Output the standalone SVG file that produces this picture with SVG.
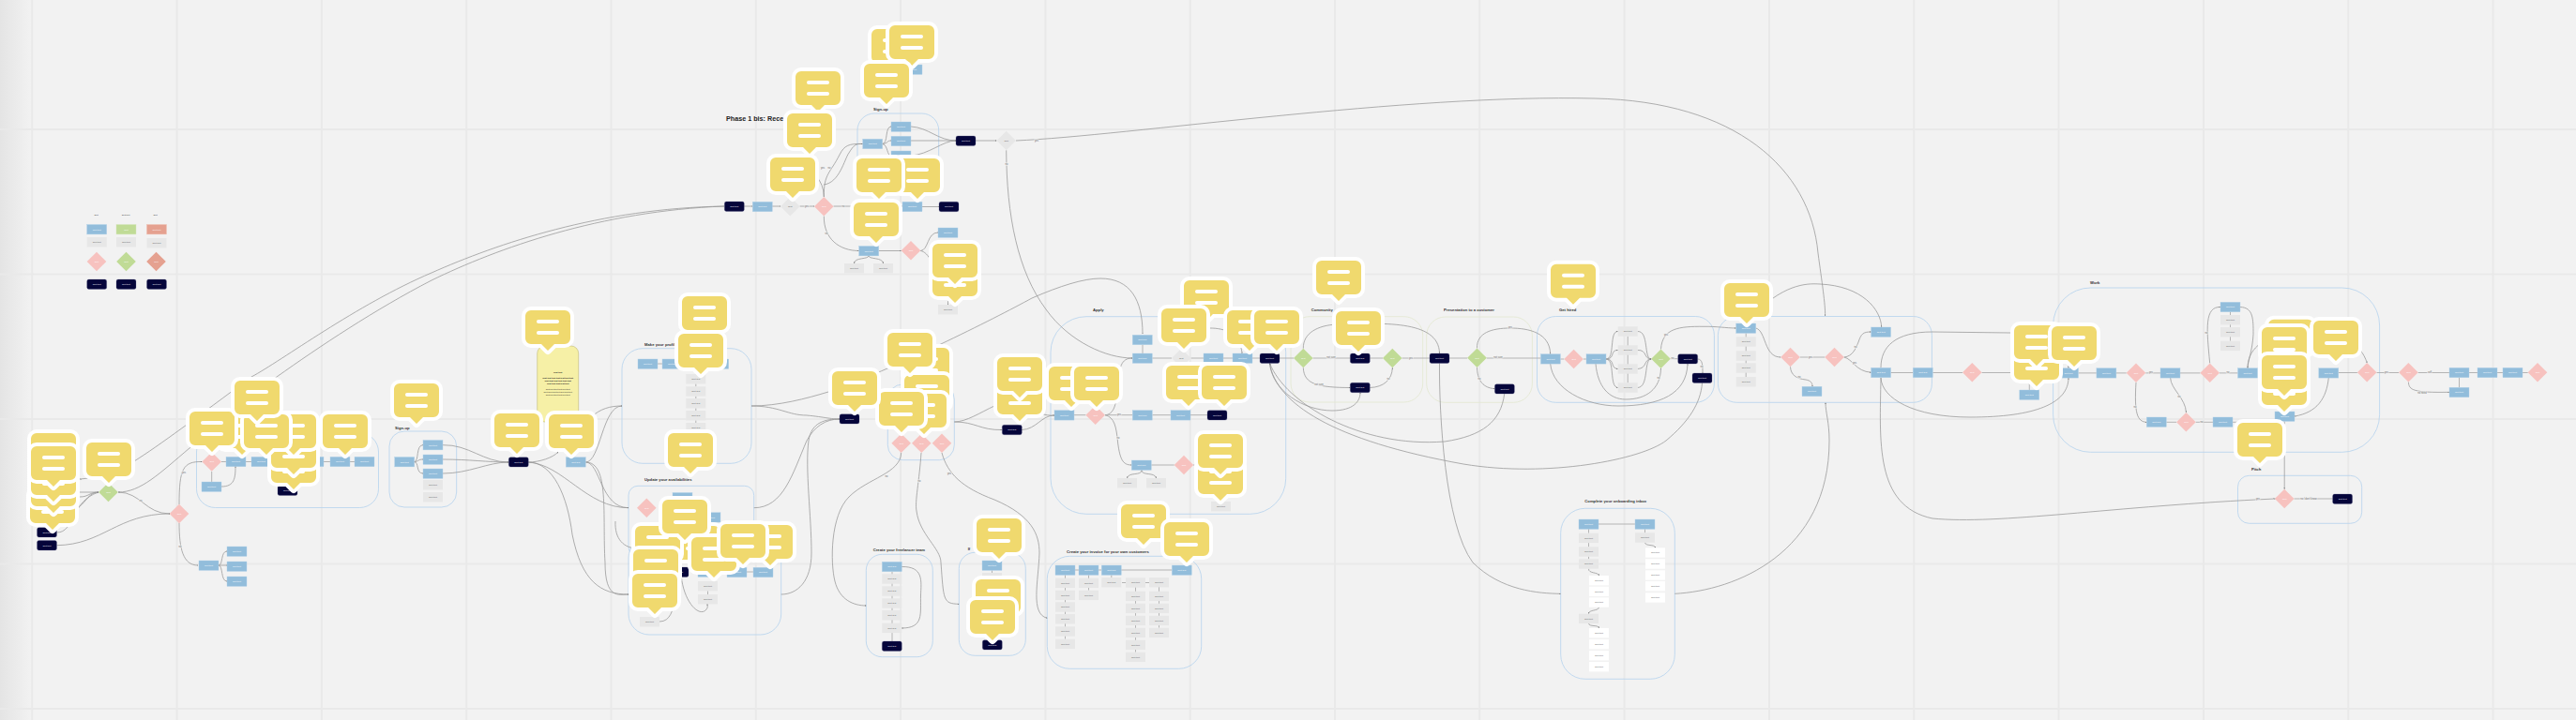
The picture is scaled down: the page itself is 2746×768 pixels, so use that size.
<svg xmlns="http://www.w3.org/2000/svg" width="2746" height="768" viewBox="0 0 2746 768">
<style>
text{font-family:"Liberation Sans",Arial,sans-serif}
.gr{stroke:#e9e9e9;stroke-width:2}
.box{fill:none;stroke:#b4d2ee;stroke-width:.8}
.gbox{fill:none;stroke:#e2e7cf;stroke-width:.8}
.c{fill:none;stroke:#969696;stroke-width:.75;marker-end:url(#a)}
.s{fill:none;stroke:#adadad;stroke-width:.9}
.l{font-size:4.2px;font-weight:700;fill:#333}
.e{font-size:2.6px;fill:#666;text-anchor:middle;paint-order:stroke;stroke:#f2f2f2;stroke-width:1.2px}
.tw{font-size:2.4px;fill:#fff;text-anchor:middle}
.td{font-size:2.4px;fill:#555;text-anchor:middle}
.tb{font-size:2.3px;fill:#222;text-anchor:middle}
</style>
<defs>
<linearGradient id="edge"><stop offset="0" stop-color="#e4e4e4"/><stop offset="1" stop-color="#f2f2f2"/></linearGradient>
<marker id="a" viewBox="0 0 4 4" refX="4" refY="2" markerWidth="1.5" markerHeight="1.5" markerUnits="userSpaceOnUse" orient="auto"><path d="M0 0L4 2L0 4z" fill="#777"/></marker>
<g id="B"><rect width="21" height="10.4" fill="#92bddb" stroke="#b3d2e8" stroke-width=".4"/><text x="10.5" y="6" class="tw">Text text</text></g>
<g id="O"><rect width="21" height="10.4" fill="#e5a190" stroke="#eec0b2" stroke-width=".4"/><text x="10.5" y="6" class="tw">Text text</text></g>
<g id="V"><rect width="21" height="10.4" fill="#c0db96" stroke="#d5e6bb" stroke-width=".4"/><text x="10.5" y="6" class="tw">Text</text></g>
<g id="G"><rect width="21" height="10.4" fill="#e7e7e7"/><text x="10.5" y="6" class="td">Text text</text></g>
<g id="W"><rect width="21" height="10.4" fill="#fff"/><text x="10.5" y="6" class="td">Text text</text></g>
<g id="N"><rect width="21" height="10.4" rx="2" fill="#05053a" stroke="#6b6b92" stroke-width=".3"/><text x="10.5" y="6" class="tw">Text text</text></g>
<g id="P"><path d="M0-10.3L10.3 0L0 10.3L-10.3 0z" fill="#f7c2bf"/><text y=".8" class="tw">Text</text></g>
<g id="L"><path d="M0-10.3L10.3 0L0 10.3L-10.3 0z" fill="#c0db96"/><text y=".8" class="tw">Text</text></g>
<g id="R"><path d="M0-10.3L10.3 0L0 10.3L-10.3 0z" fill="#e5a190"/><text y=".8" class="tw">Text</text></g>
<g id="D"><path d="M0-10.3L10.3 0L0 10.3L-10.3 0z" fill="#e7e7e7"/><text y=".8" class="td">Text</text></g>
<g id="C"><path d="M6 0H42a6 6 0 0 1 6 6V30a6 6 0 0 1-6 6H31L24 43L17 36H6a6 6 0 0 1-6-6V6a6 6 0 0 1 6-6z" fill="#f0d96e" stroke="#fff" stroke-width="8" stroke-linejoin="round" paint-order="stroke"/><rect x="12" y="10" width="24" height="4" rx="2" fill="#fff"/><rect x="12" y="22" width="24" height="4" rx="2" fill="#fff"/></g>
</defs>
<rect width="2746" height="768" fill="#f2f2f2"/>
<rect width="34" height="768" fill="url(#edge)"/>
<g id="grid" class="gr">
<path d="M34.3 0V768M188.6 0V768M342.9 0V768M497.2 0V768M651.5 0V768M805.8 0V768M960 0V768M1114.4 0V768M1268.7 0V768M1423 0V768M1577.3 0V768M1731.6 0V768M1886 0V768M2040.3 0V768M2194.6 0V768M2349 0V768M2503.3 0V768M2657.6 0V768M0 138H2746M0 292.6H2746M0 447H2746M0 601.6H2746M0 756H2746"/>
</g>
<g id="groups">
<rect class="box" x="209.5" y="462" width="194" height="79.5" rx="20"/>
<rect class="box" x="415" y="460" width="71.7" height="81" rx="16"/>
<rect class="box" x="663" y="371.7" width="138" height="122.6" rx="22"/>
<rect class="box" x="670" y="518.3" width="133.7" height="75" rx="10"/>
<rect class="box" x="670" y="573" width="162.7" height="104" rx="22"/>
<rect class="box" x="914" y="121" width="86.7" height="74" rx="18"/>
<rect class="box" x="946.3" y="410" width="71" height="80.7" rx="16"/>
<rect class="box" x="923.3" y="591.3" width="71" height="109.4" rx="17"/>
<rect class="box" x="1022.3" y="589.3" width="71" height="110" rx="17"/>
<rect class="box" x="1116.3" y="593.3" width="164.4" height="120" rx="24"/>
<rect class="box" x="1120" y="337.7" width="250.7" height="210.6" rx="38"/>
<rect class="gbox" x="1376" y="337.7" width="140.7" height="91.3" rx="20"/>
<rect class="gbox" x="1520.7" y="338" width="112.7" height="91.3" rx="20"/>
<rect class="box" x="1638.5" y="337.5" width="188.9" height="91.8" rx="20"/>
<rect class="box" x="1831.4" y="337.5" width="228" height="91.8" rx="20"/>
<rect class="box" x="1663.7" y="542.3" width="121.6" height="182" rx="26"/>
<rect class="box" x="2188.6" y="307" width="348" height="175.3" rx="40"/>
<rect class="box" x="2385.5" y="507.3" width="132.2" height="51" rx="12"/>
</g>
<g id="connectors">
<path class="c" d="M772 220C640 222 530 260 460 291C380 325 300 385 268 402C210 445 170 475 143 492C125 505 100 510 85 511"/>
<path class="c" d="M772 220C640 225 530 265 460 299C400 330 340 370 295 402C260 425 230 460 202 478C170 505 150 525 126 525"/>
<path class="c" d="M85 525H105"/><path class="c" d="M85 530C95 530 95 525 105 525"/><path class="c" d="M85 540C92 535 95 525 105 525"/>
<path class="c" d="M60.500 568C80 568 75 535 105 525"/>
<path class="c" d="M60.500 581.700C110 581 125 548 181 548"/>
<path class="c" d="M126 525C150 525 155 548 181 548"/>
<path class="c" d="M191 538C191 500 195 492 215.500 492.500"/>
<path class="c" d="M191 558C191 585 195 603 211 603"/>
<path class="c" d="M233 603C238 603 235 588 242 588"/><path class="c" d="M233 603C238 603 235 620 242 620"/><path class="c" d="M233 603H242"/>
<path class="c" d="M236 519C250 519 251 510 251 497"/>
<path class="c" d="M441.700 492.700C447 492 443 474.700 451 474.700"/><path class="c" d="M441.700 492.700C447 492 445 490 451 490"/><path class="c" d="M441.700 492.700C447 493 443 505 451 505"/>
<path class="c" d="M472 474.700C500 474 515 493 542 493"/><path class="c" d="M472 490C500 490 520 493 542 493"/><path class="c" d="M472 505C500 505 520 493 542 493"/>
<path class="c" d="M563 493C575 493 590 488 595 482"/>
<path class="c" d="M624.300 493C640 493 642 433 663 433"/>
<path class="c" d="M630 445C640 436 650 433 663 433"/>
<path class="c" d="M624.300 493C640 493 640 541.700 670 541.700"/>
<path class="c" d="M563 493C600 495 625 541.700 670 541.700"/>
<path class="c" d="M624.300 493C650 493 642 550 645 600C645 640 660 634 670 634"/>
<path class="c" d="M563 493C590 493 605 530 610 570C620 620 640 634 670 634"/>
<path class="c" d="M801 433C830 433 860 425 883 418C950 395 1060 340 1100 318C1130 305 1155 297 1173 297C1205 297 1218 320 1218 356"/>
<path class="c" d="M801 433C830 433 840 443 860 443C880 445 885 447 895 447"/>
<path class="c" d="M803.700 541.700C835 541.700 845 505 860 470C868 455 880 447 895 447"/>
<path class="c" d="M832.700 634C850 634 865 620 865 590C865 550 858 500 862 470C865 450 880 447 895 447"/>
<path class="c" d="M656 556C655 575 665 585 680 585"/>
<path class="c" d="M703 663C715 663 717 650 720 640"/>
<path class="c" d="M726 610C727 640 745 660 753 650C755 648 754 645 754 644"/>
<path class="c" d="M1017.300 450C1040 450 1045 459 1068 458.500"/>
<path class="c" d="M1017.300 450C1030 450 1045 440 1060 433C1080 425 1105 445 1124 443"/>
<path class="c" d="M1089 458.500C1105 458 1110 443 1124 443"/>
<path class="c" d="M960.700 483C960 505 925 510 905 530C885 550 885 600 890 620C895 640 910 646 923.300 646"/>
<path class="c" d="M982 483C980 513 975 535 977 545C980 570 1003 585 1003 600C1006 640 1005 644 1022.300 644.300"/>
<path class="c" d="M1004 483C1010 505 1025 520 1060 533C1100 550 1108 570 1108 590C1107 620 1098 655 1116.300 659.300"/>
<path class="c" d="M961 604.500C985 604 982 620 981.500 635C981 655 985 670 961 670"/>
<path class="c" d="M793 220H802"/>
<path class="c" d="M823 220H832"/>
<path class="c" d="M852.600 220H868"/>
<path class="c" d="M888.600 220H962"/>
<path class="c" d="M878.300 210C878 190 865 185 857 172"/>
<path class="c" d="M878.300 210C878 185 885 185 895 165C900 155 905 153 919.700 153.500"/>
<path class="c" d="M878 197C895 195 900 170 905 163C910 155 912 153 919.700 153.500"/>
<path class="c" d="M940.700 153.500C947 153 943 135 950 135"/><path class="c" d="M940.700 153.500C947 153 945 150 950 150"/><path class="c" d="M940.700 153.500C947 155 945 166 950 166"/>
<path class="c" d="M971 135C990 136 1000 150 1019 150"/><path class="c" d="M971 150H1019"/><path class="c" d="M971 166C990 165 1005 150 1019 150"/>
<path class="c" d="M1040 150H1062.400"/>
<path class="c" d="M983 220.500H1001"/>
<path class="c" d="M878.300 230.600C878 255 895 267.500 915.700 267.500"/>
<path class="c" d="M936.700 267.500H960.700"/>
<path class="c" d="M926 272.700C926 277 941 274 941.500 281"/><path class="c" d="M926 272.700C926 277 911 274 910.500 281"/>
<path class="c" d="M981.300 267.500C990 267 988 248 1000 248"/>
<path class="c" d="M981.300 267.500C985 268 990 272 993 280"/>
<path class="c" d="M1010.500 318V325"/>
<path class="c" d="M1083 150C1200 145 1500 100 1700 105C1850 108 1930 180 1938 270C1942 300 1946 325 1945.600 337"/>
<path class="c" d="M1072.700 160.300C1073 230 1085 290 1115 330C1140 365 1180 382 1207 382"/>
<path class="c" d="M1178 442.700C1190 442 1190 425 1192 410C1193 392 1195 382 1207 382"/>
<path class="c" d="M1178 442.700C1188 445 1190 455 1191.700 473C1194 490 1197 496 1206 496"/>
<path class="c" d="M1217 501.400C1217 508 1203 503 1201.500 510"/><path class="c" d="M1217 501.400C1217 508 1231 503 1232.500 510"/>
<path class="c" d="M1290 350C1305 350 1322 355 1324 377"/>
<path class="c" d="M1353.500 387.400C1356 417 1390 438 1420 438C1443 438 1450 428 1450 418.700"/>
<path class="c" d="M1603.700 420C1600 450 1580 465 1540 471C1450 478 1370 430 1353.500 387.400"/>
<path class="c" d="M1814.500 408.400C1813 430 1800 450 1776 470C1750 490 1650 510 1560 495C1420 470 1360 430 1353.500 387.400"/>
<path class="c" d="M1389.300 371.700C1389 355 1405 347 1425 346C1470 345 1534 340 1534.500 377"/>
<path class="c" d="M1389.300 392.300C1390 410 1405 413.300 1439.300 413.500"/>
<path class="c" d="M1460.300 413.500C1475 413 1484 405 1484.300 392.300"/>
<path class="c" d="M1574.500 371.400C1574 355 1590 350 1610 350C1630 350 1652 355 1652.700 377.700"/>
<path class="c" d="M1652.700 388C1655 415 1690 433 1725 433C1770 433 1798 420 1799 388"/>
<path class="c" d="M1574.500 392C1575 410 1585 414 1593.400 414.700"/>
<path class="c" d="M1534.500 387.400C1534 440 1540 560 1570 600C1600 630 1640 633 1663.700 633.300"/>
<path class="c" d="M1785.300 633.300C1850 630 1950 590 1950 470C1950 450 1946 440 1946 429.500"/>
<path class="c" d="M1712 383C1722 383 1715 353 1724.700 353.500"/><path class="c" d="M1712 383C1722 383 1716 373 1724.700 373.500"/><path class="c" d="M1712 383C1722 383 1716 393 1724.700 393.500"/><path class="c" d="M1712 383C1722 383 1715 413 1724.700 413.500"/>
<path class="c" d="M1745.700 353.500C1758 353 1752 383 1760.200 383"/><path class="c" d="M1745.700 373.500C1756 373 1752 383 1760.200 383"/><path class="c" d="M1745.700 393.500C1756 393 1752 383 1760.200 383"/><path class="c" d="M1745.700 413.500C1758 413 1752 383 1760.200 383"/>
<path class="c" d="M1701 388C1703 412 1715 426 1733 426C1755 426 1770 415 1770.500 393"/>
<path class="c" d="M1770.500 372.400C1772 350 1790 348 1816 348.300C1830 348 1840 350 1850.700 350"/>
<path class="c" d="M1809.700 383C1815 383 1815 390 1815 398"/>
<path class="c" d="M1871.700 350C1883 353 1880 381 1898.200 381"/>
<path class="c" d="M1908.500 391.300C1909 400 1915 404 1925 405C1930 406 1932 408 1932 412.300"/>
<path class="c" d="M1965.800 381C1975 380 1978 372 1981 365C1984 356 1986 354 1994.600 354"/>
<path class="c" d="M1965.800 381C1975 383 1978 396 1994.600 397.300"/>
<path class="c" d="M1865 340C1900 303 1925 302 1940 303C1985 305 2005 330 2005.700 349"/>
<path class="c" d="M2005 392C2005 370 2020 354 2060 354L2143 355C2170 355 2205 365 2205 392.700"/>
<path class="c" d="M2005 403C2006 425 2040 445 2100 445C2170 445 2205 430 2205 403"/>
<path class="c" d="M2005 403C2004 470 1998 540 2060 553C2130 560 2250 540 2425 532"/>
<path class="c" d="M2277 408C2275 440 2278 450 2288.300 450.300"/>
<path class="c" d="M2313.600 403C2314 415 2330 425 2330.400 440"/>
<path class="c" d="M2355.700 387.400C2352 350 2350 327 2367 327.500"/>
<path class="c" d="M2388 327.500C2402 328 2402 340 2402 356.700C2401 375 2396 385 2396 392.700"/>
<path class="c" d="M2396 392.700C2396 380 2402 372 2410 366C2440 345 2510 345 2523.200 387"/>
<path class="c" d="M2482.300 403C2480 425 2470 440 2446 444"/>
<path class="c" d="M2435.200 449.400V521.700"/>
<path class="c" d="M2567.400 407.600C2568 416 2572 419 2611 418.300"/>
<path class="s" d="M236 492.500H241M262 492.500H268M289 492.500H296M345 492.500H352M373 492.500H378M225.700 503V514M317 522L326 515M701 388H706M727 388H755M741.800 409.400V412.300M741.800 422.700V425M741.800 435.400V438M741.800 448.400V451M724 530V535M765 610H775M796 610H803M754.500 630.400V634M951 609.700V684M1057.500 608.400V611M1146 608H1150M1171 608H1174M1195 608H1249M1135.500 613.400V681.700M1160.500 613.400V629.700M1184.800 613.400V616M1221 621.500H1225M1196 621.500H1200M1210.500 626V695.700M1235.500 626V669.700M1145 442.700H1157.400M1178 442.700H1207.300M1228.300 442.700H1248M1269 442.700H1287M1227.300 496H1251.700M1272 496H1277M1301.500 530V535M1218 367.700V377M1228.300 382H1249M1269.600 382H1283M1304 382H1314M1335 382H1343M1364 382H1379M1399.600 382H1439.300M1460.300 382H1474M1494.600 382H1524M1545 382H1564.200M1584.800 382H1642.400M1663.400 383H1667.300M1688 383H1691M1735.200 358.700V408.300M1781 382.700H1788.700M1861.200 355.400V402M1918.800 381H1945.200M2015.600 397.500H2039.300M2060.300 397.500H2092M2112.600 397.500H2152.800M2163.300 403V416M2215.500 397.900H2234.900M2255.900 397.900H2266.700M2287.300 397.900H2303M2324 397.900H2345.400M2366 397.900H2385.500M2377.500 332.700V363.700M2309.300 450.300H2320M2340.700 450.300H2359M2380 450.300H2425M2493 397.500H2512.900M2533.500 397.500H2557M2577.700 397.500H2611M2632 397.500H2641M2662 397.500H2668M2689 397.500H2694.700M2621.500 402.700V413.300M2445.500 532H2486.600M2425 532H2435M1704 559H1743M1693.500 564.200V568.700M1693.500 579.100V583.300M1693.500 593.700V596.300M1753.500 564.200V568.300"/>
<path class="c" d="M1693.500 606.700C1693 612 1704 610 1704.500 614"/><path class="c" d="M1704.500 647.700C1704 652 1693.500 650 1693.500 654.700"/><path class="c" d="M1693.500 665C1694 669 1704 666 1704.500 670"/><path class="c" d="M1753.500 578.700C1754 583 1764 580 1764.500 584.300"/>
</g>
<g id="edge-labels">
<text class="e" x="150" y="535">no</text><text class="e" x="196" y="505">yes</text><text class="e" x="192" y="584">no</text>
<text class="e" x="860" y="221">yes</text><text class="e" x="899" y="221">no</text><text class="e" x="877" y="180">yes</text><text class="e" x="884" y="180">no</text><text class="e" x="881" y="250">no</text><text class="e" x="1105" y="151">yes</text><text class="e" x="1073" y="176">no</text>
<text class="e" x="945" y="509">no</text><text class="e" x="980" y="514">no</text><text class="e" x="1012" y="506">yes</text>
<text class="e" x="1193" y="443">yes</text><text class="e" x="1192" y="468">no</text><text class="e" x="1419" y="382">not sure</text><text class="e" x="1406" y="411">not sure</text><text class="e" x="1480" y="405">no</text><text class="e" x="1504" y="383">yes</text><text class="e" x="1610" y="350">yes</text><text class="e" x="1597" y="382">not sure</text><text class="e" x="1577" y="405">no</text>
<text class="e" x="1776" y="358">yes</text><text class="e" x="1768" y="404">no</text><text class="e" x="1783" y="383">no</text><text class="e" x="1814" y="392">no</text><text class="e" x="1930" y="382">yes</text><text class="e" x="1918" y="403">no</text><text class="e" x="1978" y="371">no</text><text class="e" x="1977" y="388">yes</text>
<text class="e" x="2293" y="398">yes</text><text class="e" x="2375" y="398">no</text><text class="e" x="2276" y="435">no</text><text class="e" x="2323" y="424">no</text><text class="e" x="2352" y="356">no</text><text class="e" x="2347" y="451">no</text><text class="e" x="2544" y="398">yes</text><text class="e" x="2590" y="398">self</text><text class="e" x="2582" y="420">no need</text><text class="e" x="2407" y="533">yes</text><text class="e" x="2461" y="533">no / don't know</text>
</g>
<g id="legend">
<text class="tb" x="102.500" y="229.500">Text</text><text class="tb" x="134" y="229.500">Text text</text><text class="tb" x="165.500" y="229.500">Text</text>
<g id="lg1"><use href="#B" x="92.700" y="239.500"/></g><g id="lg2"><use href="#V" x="124" y="239.500"/></g><g id="lg3"><use href="#O" x="156.500" y="239.500"/></g>
<g id="lg4"><use href="#G" x="92.700" y="253"/></g><g id="lg5"><use href="#G" x="124" y="253"/></g><g id="lg6"><use href="#G" x="156.500" y="254"/></g>
<g id="lg7"><use href="#P" x="103" y="279"/></g><g id="lg8"><use href="#L" x="134.500" y="279"/></g><g id="lg9"><use href="#R" x="166.500" y="279"/></g>
<g id="lg10"><use href="#N" x="92.700" y="298"/></g><g id="lg11"><use href="#N" x="124" y="298"/></g><g id="lg12"><use href="#N" x="156.500" y="298"/></g>
</g>
<g id="nodes">
<g id="n1"><use href="#N" x="39.500" y="562.700"/></g><g id="n2"><use href="#N" x="39.500" y="576.500"/></g>
<g id="n3"><use href="#L" x="115.500" y="525"/></g><g id="n4"><use href="#P" x="191" y="548"/></g><g id="n5"><use href="#P" x="225.700" y="492.500"/></g>
<g id="n6"><use href="#B" x="241" y="487.300"/></g><g id="n7"><use href="#B" x="268" y="487.300"/></g><g id="n8"><use href="#B" x="324" y="487.300"/></g><g id="n9"><use href="#B" x="352" y="487.300"/></g><g id="n10"><use href="#B" x="378" y="487.300"/></g><g id="n11"><use href="#B" x="215" y="514"/></g><g id="n12"><use href="#N" x="296" y="518"/></g>
<g id="n13"><use href="#B" x="212" y="598"/></g><g id="n14"><use href="#B" x="242" y="583"/></g><g id="n15"><use href="#B" x="242" y="599"/></g><g id="n16"><use href="#B" x="242" y="615"/></g>
<g id="n17"><use href="#B" x="420.700" y="487.500"/></g><g id="n18"><use href="#B" x="451" y="469.500"/></g><g id="n19"><use href="#B" x="451" y="485"/></g><g id="n20"><use href="#B" x="451" y="500"/></g><g id="n21"><use href="#G" x="451" y="512"/></g><g id="n22"><use href="#G" x="451" y="525"/></g>
<g id="n23"><use href="#N" x="542.300" y="487.700"/></g><g id="n24"><use href="#B" x="603.300" y="487.700"/></g>
<g id="note"><rect x="572.700" y="369" width="44" height="81" rx="8" fill="#f6f0a6" stroke="#b5ae6a" stroke-width=".5"/><text class="tb" x="594.700" y="398" font-weight="700">Text text</text><text class="tb" x="594.700" y="404" font-weight="700">Text text text text text text text</text><text class="tb" x="594.700" y="407" font-weight="700">Text text text text text text</text><text class="tb" x="594.700" y="410" font-weight="700">Text text text text text</text><text class="tb" x="594.700" y="416">Text text text text text text</text><text class="tb" x="594.700" y="419">Text text text text text text text</text><text class="tb" x="594.700" y="422">Text text text text text text</text></g>
<g id="n25"><use href="#B" x="680" y="383"/></g><g id="n26"><use href="#B" x="706" y="383"/></g><g id="n27"><use href="#B" x="755.700" y="383"/></g>
<g id="n28"><use href="#G" x="731.300" y="399"/></g><g id="n29"><use href="#G" x="731.300" y="412.300"/></g><g id="n30"><use href="#G" x="731.300" y="425"/></g><g id="n31"><use href="#G" x="731.300" y="438"/></g><g id="n32"><use href="#G" x="731.300" y="451"/></g>
<g id="n33"><use href="#P" x="689.300" y="541.700"/></g><g id="n34"><use href="#B" x="717" y="525.500"/></g><g id="n35"><use href="#B" x="747" y="546.700"/></g>
<g id="n36"><use href="#N" x="713" y="605"/></g><g id="n37"><use href="#B" x="744" y="605"/></g><g id="n38"><use href="#B" x="775" y="605.300"/></g><g id="n39"><use href="#B" x="803" y="605.300"/></g><g id="n40"><use href="#G" x="744" y="620"/></g><g id="n41"><use href="#G" x="744" y="634"/></g><g id="n42"><use href="#G" x="682" y="658"/></g>
<g id="n43"><use href="#N" x="772.300" y="215"/></g><g id="n44"><use href="#B" x="802.300" y="215.300"/></g><g id="n45"><use href="#D" x="842.300" y="220.300"/></g><g id="n46"><use href="#P" x="878.300" y="220.300"/></g><g id="n47"><use href="#B" x="962" y="215.300"/></g><g id="n48"><use href="#N" x="1001" y="215.300"/></g>
<g id="n49"><use href="#B" x="919.700" y="148.300"/></g><g id="n50"><use href="#B" x="950" y="130"/></g><g id="n51"><use href="#B" x="950" y="145.300"/></g><g id="n52"><use href="#B" x="950" y="161"/></g><g id="n53"><use href="#N" x="1019" y="145"/></g><g id="n54"><use href="#D" x="1072.700" y="150"/></g><g id="n55"><use href="#B" x="962" y="69"/></g>
<g id="n56"><use href="#B" x="915.700" y="262.500"/></g><g id="n57"><use href="#G" x="900" y="281"/></g><g id="n58"><use href="#G" x="931" y="281"/></g><g id="n59"><use href="#P" x="971" y="267.300"/></g><g id="n60"><use href="#B" x="1000" y="243"/></g><g id="n61"><use href="#G" x="1000" y="325"/></g>
<g id="n62"><use href="#N" x="895" y="441.700"/></g><g id="n63"><use href="#P" x="960.700" y="472.700"/></g><g id="n64"><use href="#P" x="982.300" y="472.700"/></g><g id="n65"><use href="#P" x="1004" y="472.700"/></g><g id="n66"><use href="#N" x="1068.300" y="453.300"/></g>
<g id="n67"><use href="#B" x="940.300" y="599.300"/></g><g id="n68"><use href="#G" x="940.300" y="612.300"/></g><g id="n69"><use href="#G" x="940.300" y="625.300"/></g><g id="n70"><use href="#G" x="940.300" y="638.300"/></g><g id="n71"><use href="#G" x="940.300" y="651"/></g><g id="n72"><use href="#G" x="940.300" y="664.700"/></g><g id="n73"><use href="#N" x="940.300" y="684"/></g>
<g id="n74"><use href="#B" x="1047" y="598"/></g><g id="n75"><use href="#G" x="1047" y="611"/></g><g id="n76"><use href="#N" x="1047.300" y="682.700"/></g>
<g id="n77"><use href="#B" x="1125" y="603"/></g><g id="n78"><use href="#B" x="1150" y="603"/></g><g id="n79"><use href="#B" x="1174.300" y="603"/></g><g id="n80"><use href="#B" x="1249.300" y="603"/></g>
<g id="n81"><use href="#G" x="1125" y="616.700"/></g><g id="n82"><use href="#G" x="1125" y="629.700"/></g><g id="n83"><use href="#G" x="1125" y="642.300"/></g><g id="n84"><use href="#G" x="1125" y="655"/></g><g id="n85"><use href="#G" x="1125" y="668.300"/></g><g id="n86"><use href="#G" x="1125" y="681.700"/></g>
<g id="n87"><use href="#G" x="1150" y="616.700"/></g><g id="n88"><use href="#G" x="1150" y="629.700"/></g><g id="n89"><use href="#G" x="1174.300" y="616"/></g>
<g id="n90"><use href="#G" x="1200" y="616.300"/></g><g id="n91"><use href="#G" x="1200" y="630.700"/></g><g id="n92"><use href="#G" x="1200" y="643.700"/></g><g id="n93"><use href="#G" x="1200" y="656.700"/></g><g id="n94"><use href="#G" x="1200" y="669.700"/></g><g id="n95"><use href="#G" x="1200" y="682.700"/></g><g id="n96"><use href="#G" x="1200" y="695.700"/></g>
<g id="n97"><use href="#G" x="1225" y="616"/></g><g id="n98"><use href="#G" x="1225" y="630.700"/></g><g id="n99"><use href="#G" x="1225" y="643.700"/></g><g id="n100"><use href="#G" x="1225" y="656.700"/></g><g id="n101"><use href="#G" x="1225" y="669.700"/></g>
<g id="n102"><use href="#B" x="1124" y="437.700"/></g><g id="n103"><use href="#P" x="1167.700" y="442.700"/></g><g id="n104"><use href="#B" x="1207.300" y="377"/></g><g id="n105"><use href="#B" x="1207.300" y="357.300"/></g><g id="n106"><use href="#D" x="1259.300" y="382"/></g><g id="n107"><use href="#B" x="1283" y="377"/></g><g id="n108"><use href="#B" x="1314" y="377"/></g><g id="n109"><use href="#N" x="1343" y="377"/></g>
<g id="n110"><use href="#B" x="1207.300" y="437.700"/></g><g id="n111"><use href="#B" x="1248" y="437.700"/></g><g id="n112"><use href="#N" x="1287" y="437.700"/></g><g id="n113"><use href="#B" x="1206.300" y="491"/></g><g id="n114"><use href="#P" x="1262" y="496"/></g><g id="n115"><use href="#G" x="1191" y="510"/></g><g id="n116"><use href="#G" x="1222" y="510"/></g><g id="n117"><use href="#G" x="1291" y="535"/></g>
<g id="n118"><use href="#L" x="1389.300" y="382"/></g><g id="n119"><use href="#N" x="1439.300" y="377"/></g><g id="n120"><use href="#L" x="1484.300" y="382"/></g><g id="n121"><use href="#N" x="1439.300" y="408.300"/></g><g id="n122"><use href="#N" x="1524" y="377"/></g>
<g id="n123"><use href="#L" x="1574.500" y="381.700"/></g><g id="n124"><use href="#N" x="1593.400" y="409.700"/></g><g id="n125"><use href="#B" x="1642.400" y="377.700"/></g><g id="n126"><use href="#P" x="1677.600" y="383"/></g><g id="n127"><use href="#B" x="1691" y="377.700"/></g>
<g id="n128"><use href="#G" x="1724.700" y="348.300"/></g><g id="n129"><use href="#G" x="1724.700" y="368.300"/></g><g id="n130"><use href="#G" x="1724.700" y="388.300"/></g><g id="n131"><use href="#G" x="1724.700" y="408.300"/></g>
<g id="n132"><use href="#L" x="1770.500" y="382.700"/></g><g id="n133"><use href="#N" x="1788.700" y="377.700"/></g><g id="n134"><use href="#N" x="1804" y="398"/></g>
<g id="n135"><use href="#B" x="1850.700" y="345"/></g><g id="n136"><use href="#G" x="1850.700" y="359.300"/></g><g id="n137"><use href="#G" x="1850.700" y="374.300"/></g><g id="n138"><use href="#G" x="1850.700" y="387.300"/></g><g id="n139"><use href="#G" x="1850.700" y="402"/></g>
<g id="n140"><use href="#P" x="1908.500" y="381"/></g><g id="n141"><use href="#P" x="1955.500" y="381"/></g><g id="n142"><use href="#B" x="1994.600" y="349"/></g><g id="n143"><use href="#B" x="1994.600" y="392.300"/></g><g id="n144"><use href="#B" x="2039.300" y="392.300"/></g><g id="n145"><use href="#B" x="1921" y="412.300"/></g>
<g id="n146"><use href="#P" x="2102.300" y="397.300"/></g><g id="n147"><use href="#B" x="2152.800" y="416"/></g><g id="n148"><use href="#B" x="2194.500" y="392.700"/></g><g id="n149"><use href="#B" x="2234.900" y="392.700"/></g><g id="n150"><use href="#P" x="2277" y="397.700"/></g><g id="n151"><use href="#B" x="2303" y="392.700"/></g><g id="n152"><use href="#P" x="2355.700" y="397.700"/></g><g id="n153"><use href="#B" x="2385.500" y="392.700"/></g><g id="n154"><use href="#B" x="2471.800" y="392.700"/></g><g id="n155"><use href="#P" x="2523.200" y="397.300"/></g><g id="n156"><use href="#P" x="2567.400" y="397.300"/></g><g id="n157"><use href="#B" x="2611" y="392.300"/></g><g id="n158"><use href="#B" x="2641" y="392.300"/></g><g id="n159"><use href="#B" x="2668" y="392.300"/></g><g id="n160"><use href="#P" x="2705" y="397.300"/></g><g id="n161"><use href="#B" x="2611" y="413.300"/></g>
<g id="n162"><use href="#B" x="2367" y="322.300"/></g><g id="n163"><use href="#G" x="2367" y="336"/></g><g id="n164"><use href="#G" x="2367" y="349"/></g><g id="n165"><use href="#G" x="2367" y="363.700"/></g>
<g id="n166"><use href="#B" x="2288.300" y="445"/></g><g id="n167"><use href="#P" x="2330.400" y="450.300"/></g><g id="n168"><use href="#B" x="2359" y="445"/></g><g id="n169"><use href="#B" x="2425" y="439"/></g><g id="n170"><use href="#P" x="2435.200" y="532"/></g><g id="n171"><use href="#N" x="2486.600" y="527"/></g>
<g id="n172"><use href="#B" x="1683" y="554"/></g><g id="n173"><use href="#B" x="1743" y="554"/></g><g id="n174"><use href="#G" x="1683" y="568.700"/></g><g id="n175"><use href="#G" x="1683" y="583.300"/></g><g id="n176"><use href="#G" x="1683" y="596.300"/></g><g id="n177"><use href="#G" x="1683" y="654.700"/></g>
<g id="n178"><use href="#W" x="1694" y="614"/></g><g id="n179"><use href="#W" x="1694" y="625.700"/></g><g id="n180"><use href="#W" x="1694" y="637.300"/></g><g id="n181"><use href="#W" x="1694" y="670"/></g><g id="n182"><use href="#W" x="1694" y="682"/></g><g id="n183"><use href="#W" x="1694" y="694"/></g><g id="n184"><use href="#W" x="1694" y="706"/></g>
<g id="n185"><use href="#G" x="1743" y="568.300"/></g><g id="n186"><use href="#W" x="1754" y="584.300"/></g><g id="n187"><use href="#W" x="1754" y="596.300"/></g><g id="n188"><use href="#W" x="1754" y="608.300"/></g><g id="n189"><use href="#W" x="1754" y="620"/></g><g id="n190"><use href="#W" x="1754" y="632.300"/></g>
</g>
<g id="titles">
<text x="774" y="128.500" font-size="7.200" font-weight="700" fill="#222">Phase 1 bis: Rece</text>
<text class="l" x="421" y="458">Sign-up</text><text class="l" x="931" y="117.500">Sign-up</text>
<text class="l" x="687" y="368.500">Make your profile</text><text class="l" x="687" y="513">Update your availabilities</text>
<text class="l" x="930.700" y="587.500">Create your freelancer team</text><text class="l" x="1031.700" y="587">If</text><text class="l" x="1137" y="589.500">Create your invoice for your own customers</text>
<text class="l" x="1165" y="332">Apply</text><text class="l" x="1397.700" y="332">Community</text><text class="l" x="1539" y="332">Presentation to a customer</text><text class="l" x="1662" y="332">Get hired</text><text class="l" x="2228" y="302.500">Work</text><text class="l" x="2400" y="501.500">Pitch</text><text class="l" x="1689.300" y="535.500">Complete your onboarding inbox</text>
</g>
<g id="comments">
<use id="c1" href="#C" x="32" y="522"/><use id="c2" href="#C" x="33" y="504"/><use id="c3" href="#C" x="33" y="492"/><use id="c4" href="#C" x="33" y="462"/><use id="c5" href="#C" x="33" y="476"/>
<use id="c6" href="#C" x="92" y="472"/>
<use id="c7" href="#C" x="234" y="442"/><use id="c8" href="#C" x="202" y="439"/><use id="c9" href="#C" x="289" y="479"/><use id="c10" href="#C" x="289" y="463"/><use id="c11" href="#C" x="289" y="442"/><use id="c12" href="#C" x="260" y="442"/><use id="c13" href="#C" x="250" y="406"/><use id="c14" href="#C" x="344" y="442"/><use id="c15" href="#C" x="420" y="409"/>
<use id="c16" href="#C" x="560" y="331"/><use id="c17" href="#C" x="527" y="441"/><use id="c18" href="#C" x="585" y="442"/>
<use id="c19" href="#C" x="727" y="316"/><use id="c20" href="#C" x="723" y="356"/><use id="c21" href="#C" x="712" y="462"/>
<use id="c22" href="#C" x="719" y="561"/><use id="c23" href="#C" x="677" y="561"/><use id="c24" href="#C" x="675" y="586"/><use id="c25" href="#C" x="674" y="612"/><use id="c26" href="#C" x="706" y="533"/><use id="c27" href="#C" x="737" y="573"/><use id="c28" href="#C" x="797" y="560"/><use id="c29" href="#C" x="768" y="559"/>
<use id="c30" href="#C" x="929" y="31"/><use id="c31" href="#C" x="948" y="27"/><use id="c32" href="#C" x="921" y="68"/><use id="c33" href="#C" x="848" y="76"/><use id="c34" href="#C" x="839" y="121"/><use id="c35" href="#C" x="821" y="168"/><use id="c36" href="#C" x="954" y="169"/><use id="c37" href="#C" x="913" y="169"/><use id="c38" href="#C" x="910" y="216"/><use id="c39" href="#C" x="994" y="280"/><use id="c40" href="#C" x="994" y="260"/>
<use id="c41" href="#C" x="964" y="371"/><use id="c42" href="#C" x="964" y="400"/><use id="c43" href="#C" x="961" y="420"/><use id="c44" href="#C" x="937" y="418"/><use id="c45" href="#C" x="946" y="355"/><use id="c46" href="#C" x="887" y="396"/>
<use id="c47" href="#C" x="1063" y="406"/><use id="c48" href="#C" x="1063" y="381"/><use id="c49" href="#C" x="1118" y="391"/><use id="c50" href="#C" x="1145" y="391"/>
<use id="c51" href="#C" x="1262" y="299"/><use id="c52" href="#C" x="1238" y="329"/><use id="c53" href="#C" x="1308" y="331"/><use id="c54" href="#C" x="1337" y="331"/><use id="c55" href="#C" x="1403" y="278"/><use id="c56" href="#C" x="1424" y="332"/><use id="c57" href="#C" x="1243" y="390"/><use id="c58" href="#C" x="1281" y="390"/><use id="c59" href="#C" x="1277" y="491"/><use id="c60" href="#C" x="1277" y="463"/>
<use id="c61" href="#C" x="1195" y="538"/><use id="c62" href="#C" x="1241" y="557"/><use id="c63" href="#C" x="1041" y="553"/><use id="c64" href="#C" x="1040" y="618"/><use id="c65" href="#C" x="1034" y="640"/>
<use id="c66" href="#C" x="1653" y="281.700"/><use id="c67" href="#C" x="1838" y="302"/>
<use id="c68" href="#C" x="2147" y="369"/><use id="c69" href="#C" x="2147" y="347"/><use id="c70" href="#C" x="2187" y="348"/>
<use id="c71" href="#C" x="2418" y="340.700"/><use id="c72" href="#C" x="2466" y="342"/><use id="c73" href="#C" x="2411" y="396"/><use id="c74" href="#C" x="2411" y="349"/><use id="c75" href="#C" x="2411" y="379"/><use id="c76" href="#C" x="2385" y="451"/>
</g>
</svg>
